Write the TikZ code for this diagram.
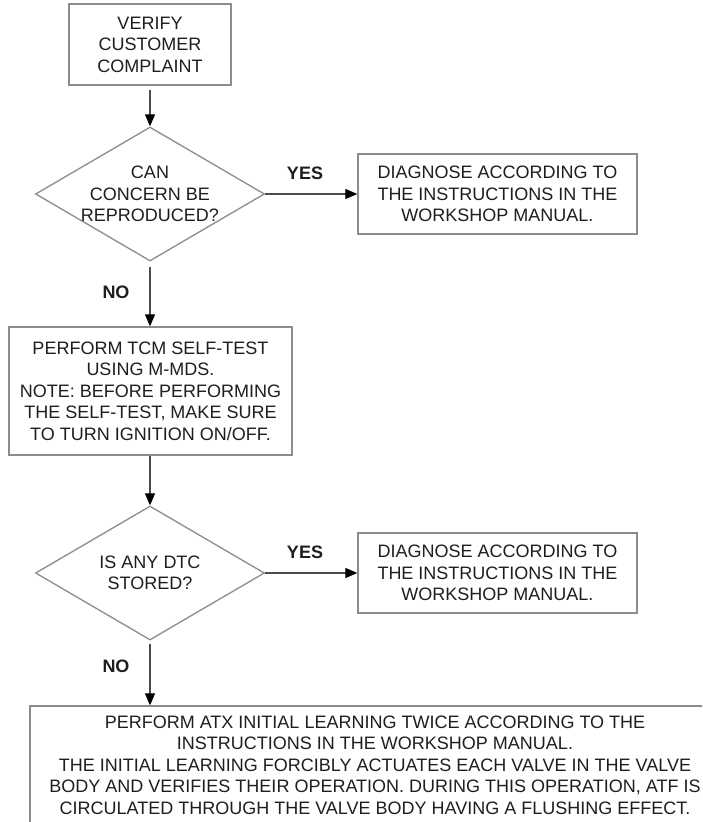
\documentclass[tikz,border=0pt]{standalone}
\usepackage{fontspec}
\setmainfont{Liberation Sans}
\usetikzlibrary{shapes.geometric, arrows.meta}
\definecolor{boxgray}{HTML}{8C8C8C}
\definecolor{linecol}{HTML}{4D4D4D}
\definecolor{txtcol}{HTML}{1E1E1E}
\begin{document}
\begin{tikzpicture}[x=1pt, y=-1pt,
  box/.style={draw=boxgray, line width=1.3pt, fill=white, text=txtcol, align=center, inner sep=0pt, font=\fontsize{18}{21.5}\selectfont},
  decision/.style={diamond, draw=boxgray, line width=1.3pt, inner sep=0pt, minimum width=229pt, minimum height=134pt},
  dtext/.style={text=txtcol, align=center, inner sep=0pt, font=\fontsize{18}{21.5}\selectfont},
  lbl/.style={text=txtcol, inner sep=0pt, font=\fontsize{18}{21.5}\selectfont\bfseries},
  conn/.style={draw=linecol, line width=1.2pt, -{Triangle[length=12pt, width=10pt, color=black]}}
]
\useasboundingbox (0,0) rectangle (702,822);
\clip (0,0) rectangle (702,822);
\fill[white] (0,0) rectangle (702,822);

\node[box, minimum width=162pt, minimum height=81pt] (b1) at (150,44.5) {VERIFY\\CUSTOMER\\COMPLAINT};
\node[decision] (d1) at (150,194) {};
\node[dtext] (d1t) at (d1.center) {CAN\\CONCERN BE\\REPRODUCED?};
\node[box, minimum width=279pt, minimum height=80pt] (b2) at (497.5,194) {DIAGNOSE ACCORDING TO\\THE INSTRUCTIONS IN THE\\WORKSHOP MANUAL.};
\node[box, minimum width=283pt, minimum height=128pt] (b3) at (150.5,391) {PERFORM TCM SELF-TEST\\USING M-MDS.\\NOTE: BEFORE PERFORMING\\THE SELF-TEST, MAKE SURE\\TO TURN IGNITION ON/OFF.};
\node[decision] (d2) at (150,573) {};
\node[dtext] (d2t) at (d2.center) {IS ANY DTC\\STORED?};
\node[box, minimum width=279pt, minimum height=80pt] (b4) at (497.5,573) {DIAGNOSE ACCORDING TO\\THE INSTRUCTIONS IN THE\\WORKSHOP MANUAL.};
\node[box, minimum width=690pt, minimum height=118pt] (b5) at (375,765) {PERFORM ATX INITIAL LEARNING TWICE ACCORDING TO THE\\INSTRUCTIONS IN THE WORKSHOP MANUAL.\\THE INITIAL LEARNING FORCIBLY ACTUATES EACH VALVE IN THE VALVE\\BODY AND VERIFIES THEIR OPERATION. DURING THIS OPERATION, ATF IS\\CIRCULATED THROUGH THE VALVE BODY HAVING A FLUSHING EFFECT.};

\node[lbl] (y1) at (305,173) {YES};
\node[lbl] (n1) at (116,292) {NO};
\node[lbl] (y2) at (305,552) {YES};
\node[lbl] (n2) at (116,666) {NO};

\draw[conn, shorten <=4pt] (b1.south) -- (d1.north);
\draw[conn] (d1.east) -- (b2.west);
\draw[conn, shorten <=5pt] (d1.south) -- (d1.south |- b3.north);
\draw[conn] (b3.south -| d2.north) -- (d2.north);
\draw[conn] (d2.east) -- (b4.west);
\draw[conn, shorten <=3pt] (d2.south) -- (d2.south |- b5.north);
\end{tikzpicture}
\end{document}
